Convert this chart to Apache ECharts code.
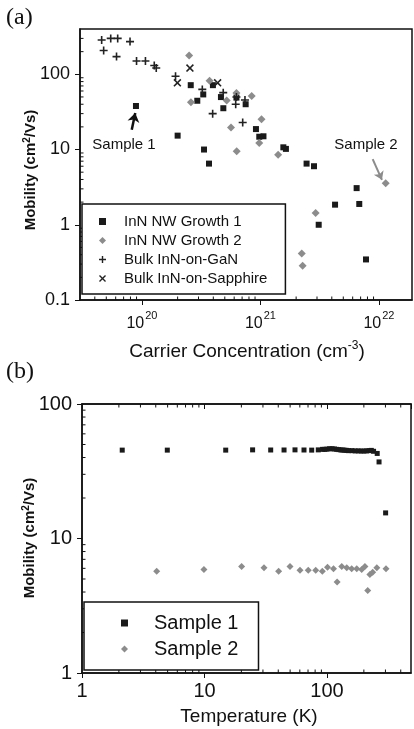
<!DOCTYPE html>
<html>
<head>
<meta charset="utf-8">
<script src="https://cdn.jsdelivr.net/npm/echarts@6/dist/echarts.min.js"></script>
<style>
    html, body { margin: 0; padding: 0; background: #fff; }
    #chart { width: 414px; height: 729px; }
</style>
</head>
<body>
<div id="chart"></div>
<script>
// (a) mobility vs carrier concentration, [N (cm^-3), mobility (cm2/Vs)]
var growth1 = [
    [8.9e19, 37.9], [2.0e20, 15.3], [2.58e20, 71.7], [2.93e20, 44.5], [3.29e20, 54],
    [3.97e20, 71.7], [4.64e20, 49.8], [4.86e20, 35.4], [6.27e20, 49], [7.5e20, 40],
    [9.16e20, 18.7], [9.77e20, 14.8], [1.06e21, 15], [3.34e20, 10], [3.68e20, 6.5],
    [1.56e21, 10.7], [1.64e21, 10.2], [2.45e21, 6.5], [2.83e21, 6.0], [6.48e21, 3.07],
    [4.26e21, 1.85], [6.82e21, 1.89], [3.1e21, 1.0], [7.77e21, 0.346]
];
var growth2 = [
    [2.5e20, 178], [3.72e20, 82], [2.59e20, 42.4], [5.19e20, 44.8], [5.64e20, 19.7],
    [6.3e20, 9.5], [6.27e20, 56.2], [8.43e20, 51.4], [1.02e21, 25.3], [9.77e20, 12.2],
    [1.41e21, 8.5], [2.92e21, 1.43], [2.23e21, 0.415], [2.27e21, 0.286], [1.14e22, 3.57]
];
var bulkGaN = [
    [4.57e19, 286], [5.45e19, 300], [6.24e19, 300], [7.93e19, 272], [4.75e19, 207],
    [6.1e19, 172], [9.0e19, 150], [1.07e20, 150], [1.27e20, 131], [1.32e20, 121],
    [1.92e20, 94], [3.23e20, 63], [4.85e20, 57], [3.95e20, 30], [6.18e20, 40],
    [7.4e20, 45.5], [7.08e20, 22.9], [6.27e20, 49.8]
];
var bulkSapphire = [[2.54e20, 121], [1.99e20, 77], [4.35e20, 77]];

// arrows: [tail, head]
var arrowSample1 = [[8.2e19, 18.3], [8.78e19, 30.7]];
var arrowSample2 = [[8.85e21, 7.46], [1.06e22, 3.96]];

// (b) mobility vs temperature, [T (K), mobility]
var sample1 = [
    [2.13, 45.4], [4.97, 45.4], [14.9, 45.4], [24.7, 45.6], [34.7, 45.5], [44.6, 45.5],
    [54.8, 45.6], [64.9, 45.5], [75, 45.4], [84.9, 45.6], [92, 46], [96, 46],
    [100, 46.2], [105, 46.5], [110, 46.5], [115, 46.3], [120, 46], [125, 45.8],
    [130, 45.5], [135, 45.5], [140, 45.3], [145, 45.2], [150, 45], [160, 45],
    [170, 44.8], [180, 44.8], [190, 44.7], [200, 44.7], [210, 44.8], [220, 45],
    [230, 45.2], [240, 44.5], [257, 42.9], [266, 37.1], [301, 15.5]
];
var sample2 = [
    [4.07, 5.7], [9.9, 5.87], [20.1, 6.2], [30.6, 6.05], [40.3, 5.7], [49.9, 6.2],
    [60.2, 5.8], [70.3, 5.8], [80.9, 5.8], [91.6, 5.7], [101, 6.1], [113, 5.97],
    [121, 4.75], [132, 6.2], [145, 6.05], [159, 5.97], [175, 5.97], [192, 5.87],
    [204, 6.2], [215, 4.11], [224, 5.39], [236, 5.6], [255, 6.05], [303, 5.97]
];

var FONT = 'Liberation Sans, Arial, sans-serif';
var INK = '#111';
var GREY = '#8c8c8c';

var plusPath = 'path://M4,0h2v4h4v2h-4v4h-2v-4h-4v-2h4z';
var crossPath = 'path://M1.4,0L5,3.6L8.6,0L10,1.4L6.4,5L10,8.6L8.6,10L5,6.4L1.4,10L0,8.6L3.6,5L0,1.4z';

// minor log ticks (2..9 x 10^k) inside a range
function minorTicks(lo, hi) {
    var out = [];
    for (var e = Math.floor(Math.log10(lo)); e <= Math.ceil(Math.log10(hi)); e++) {
        for (var k = 2; k <= 9; k++) {
            var v = k * Math.pow(10, e);
            if (v > lo && v < hi) out.push(v);
        }
    }
    return out;
}

function tickSeries(xIdx, yIdx, vals, isX, fixed, sides) {
    return {
        type: 'custom',
        xAxisIndex: xIdx,
        yAxisIndex: yIdx,
        silent: true,
        clip: false,
        data: vals.map(function (v) { return isX ? [v, fixed] : [fixed, v]; }),
        renderItem: function (params, api) {
            var cs = params.coordSys;
            var p = api.coord([api.value(0), api.value(1)]);
            var kids = [];
            sides.forEach(function (s) {
                var shape;
                if (isX) {
                    var y0 = s === 'top' ? cs.y : cs.y + cs.height;
                    var d = s === 'top' ? 3.5 : -3.5;
                    shape = { x1: p[0], y1: y0, x2: p[0], y2: y0 + d };
                } else {
                    var x0 = s === 'right' ? cs.x + cs.width : cs.x;
                    var dx = s === 'right' ? -3.5 : 3.5;
                    shape = { x1: x0, y1: p[1], x2: x0 + dx, y2: p[1] };
                }
                kids.push({ type: 'line', shape: shape, style: { stroke: INK, lineWidth: 1 } });
            });
            return { type: 'group', children: kids };
        }
    };
}

function logAxis(opt) {
    var a = {
        type: 'log',
        logBase: 10,
        min: opt.min,
        max: opt.max,
        gridIndex: opt.grid,
        position: opt.position,
        axisLine: { show: true, onZero: false, lineStyle: { color: INK, width: 1.5 } },
        axisTick: { show: true, inside: !!opt.inside, length: 5, lineStyle: { color: INK, width: 1 } },
        axisLabel: {
            show: opt.labels !== false,
            showMinLabel: false,
            showMaxLabel: false,
            margin: opt.margin || 8,
            color: INK,
            fontFamily: FONT,
            fontSize: opt.fontSize || 18,
            formatter: opt.formatter,
            rich: opt.rich
        },
        splitLine: { show: false },
        minorTick: { show: false },
        minorSplitLine: { show: false }
    };
    if (opt.showMin) a.axisLabel.showMinLabel = true;
    if (opt.showMax) a.axisLabel.showMaxLabel = true;
    return a;
}

var supRich = {
    b: { fontSize: 16, fontFamily: FONT, color: INK, lineHeight: 22, verticalAlign: 'bottom' },
    s: { fontSize: 11, fontFamily: FONT, color: INK, lineHeight: 22, verticalAlign: 'top', padding: [0, 0, 0, 1] }
};

var aX = { min: 3e19, max: 1.9e22 };
var aY = { min: 0.1, max: 400 };
var bX = { min: 1, max: 485 };
var bY = { min: 1, max: 100 };

var option = {
    animation: false,
    backgroundColor: '#fff',
    textStyle: { fontFamily: FONT },
    grid: [
        { left: 80, top: 29, width: 332, height: 271, containLabel: false, outerBoundsMode: 'none',
          show: true, borderColor: INK, borderWidth: 1.5, backgroundColor: 'transparent' },
        { left: 82, top: 404, width: 329, height: 269, containLabel: false, outerBoundsMode: 'none',
          show: true, borderColor: INK, borderWidth: 1.5, backgroundColor: 'transparent' }
    ],
    xAxis: [
        logAxis({ grid: 0, min: aX.min, max: aX.max, position: 'bottom', margin: 10, rich: supRich,
            formatter: function (v) { return '{b|10}{s|' + Math.round(Math.log10(v)) + '}'; } }),
        logAxis({ grid: 1, min: bX.min, max: bX.max, position: 'bottom', margin: 8, fontSize: 20, showMin: true,
            formatter: function (v) { return String(Math.round(v)); } }),
        logAxis({ grid: 1, min: bX.min, max: bX.max, position: 'top', inside: true, labels: false })
    ],
    yAxis: [
        logAxis({ grid: 0, min: aY.min, max: aY.max, position: 'left', margin: 10, fontSize: 18, showMin: true,
            formatter: function (v) { return v < 1 ? v.toFixed(1) : String(Math.round(v)); } }),
        logAxis({ grid: 1, min: bY.min, max: bY.max, position: 'left', margin: 10, fontSize: 20, showMin: true, showMax: true,
            formatter: function (v) { return String(Math.round(v)); } })
    ],
    legend: [
        {
            orient: 'vertical',
            left: 82, top: 204,
            padding: [8, 18, 6, 17],
            itemWidth: 7, itemHeight: 7, itemGap: 0,
            borderColor: INK, borderWidth: 1.5,
            backgroundColor: '#fff',
            textStyle: { fontFamily: FONT, fontSize: 15, color: INK, lineHeight: 19, padding: [0, 0, 0, 13] },
            data: ['InN NW Growth 1', 'InN NW Growth 2', 'Bulk InN-on-GaN', 'Bulk InN-on-Sapphire']
        },
        {
            orient: 'vertical',
            left: 84, top: 602,
            padding: [8, 20, 8, 37],
            itemWidth: 7, itemHeight: 7, itemGap: 0,
            borderColor: INK, borderWidth: 1.5,
            backgroundColor: '#fff',
            textStyle: { fontFamily: FONT, fontSize: 20, color: INK, lineHeight: 26, padding: [0, 0, 0, 21] },
            data: ['Sample 1', 'Sample 2']
        }
    ],
    graphic: [
        { type: 'text', left: 6, top: 6, style: { text: '(a)', font: '24px "Liberation Serif", serif', fill: INK } },
        { type: 'text', left: 6, top: 360, style: { text: '(b)', font: '24px "Liberation Serif", serif', fill: INK } },
        { type: 'text', x: 31, y: 170, rotation: Math.PI / 2,
          style: { text: 'Mobility (cm{s|2}/Vs)', font: 'bold 15px ' + FONT, fill: INK, align: 'center', verticalAlign: 'middle',
                   rich: { s: { font: 'bold 10px ' + FONT, fill: INK, verticalAlign: 'top', lineHeight: 18 } } } },
        { type: 'text', x: 30, y: 538, rotation: Math.PI / 2,
          style: { text: 'Mobility (cm{s|2}/Vs)', font: 'bold 15px ' + FONT, fill: INK, align: 'center', verticalAlign: 'middle',
                   rich: { s: { font: 'bold 10px ' + FONT, fill: INK, verticalAlign: 'top', lineHeight: 18 } } } },
        { type: 'text', x: 247, y: 352,
          style: { text: 'Carrier Concentration (cm{s|-3})', font: '19px ' + FONT, fill: INK, align: 'center', verticalAlign: 'middle',
                   rich: { s: { font: '12px ' + FONT, fill: INK, verticalAlign: 'top', lineHeight: 24 } } } },
        { type: 'text', x: 249, y: 717,
          style: { text: 'Temperature (K)', font: '19px ' + FONT, fill: INK, align: 'center', verticalAlign: 'middle' } },
        { type: 'text', x: 124, y: 145,
          style: { text: 'Sample 1', font: '15px ' + FONT, fill: INK, align: 'center', verticalAlign: 'middle' } },
        { type: 'text', x: 366, y: 145,
          style: { text: 'Sample 2', font: '15px ' + FONT, fill: INK, align: 'center', verticalAlign: 'middle' } }
    ],
    series: [
        {
            name: 'InN NW Growth 1', type: 'scatter', xAxisIndex: 0, yAxisIndex: 0,
            symbol: 'rect', symbolSize: 6, data: growth1,
            itemStyle: { color: '#1a1a1a', opacity: 1 },
            markLine: {
                silent: true, symbol: ['none', 'arrow'], symbolSize: [9, 9],
                label: { show: false },
                lineStyle: { color: INK, width: 2.5, type: 'solid' },
                data: [[{ coord: arrowSample1[0] }, { coord: arrowSample1[1] }]]
            }
        },
        {
            name: 'InN NW Growth 2', type: 'scatter', xAxisIndex: 0, yAxisIndex: 0,
            symbol: 'diamond', symbolSize: 8, data: growth2,
            itemStyle: { color: GREY, opacity: 1 },
            markLine: {
                silent: true, symbol: ['none', 'arrow'], symbolSize: [8, 8],
                label: { show: false },
                lineStyle: { color: GREY, width: 2, type: 'solid' },
                data: [[{ coord: arrowSample2[0] }, { coord: arrowSample2[1] }]]
            }
        },
        {
            name: 'Bulk InN-on-GaN', type: 'scatter', xAxisIndex: 0, yAxisIndex: 0,
            symbol: plusPath, symbolSize: 8, data: bulkGaN,
            itemStyle: { color: '#222', opacity: 1 }
        },
        {
            name: 'Bulk InN-on-Sapphire', type: 'scatter', xAxisIndex: 0, yAxisIndex: 0,
            symbol: crossPath, symbolSize: 8, data: bulkSapphire,
            itemStyle: { color: '#222', opacity: 1 }
        },
        {
            name: 'Sample 1', type: 'scatter', xAxisIndex: 1, yAxisIndex: 1,
            symbol: 'rect', symbolSize: 5, data: sample1,
            itemStyle: { color: '#1a1a1a', opacity: 1 }
        },
        {
            name: 'Sample 2', type: 'scatter', xAxisIndex: 1, yAxisIndex: 1,
            symbol: 'diamond', symbolSize: 7, data: sample2,
            itemStyle: { color: GREY, opacity: 1 }
        },
        tickSeries(0, 0, minorTicks(aX.min, aX.max), true, aY.min, ['bottom']),
        tickSeries(0, 0, minorTicks(aY.min, aY.max), false, aX.min, ['left']),
        tickSeries(1, 1, minorTicks(bX.min, bX.max), true, bY.min, ['bottom', 'top']),
        tickSeries(1, 1, minorTicks(bY.min, bY.max), false, bX.min, ['left'])
    ]
};

var chart = echarts.init(document.getElementById('chart'), null, { renderer: 'canvas' });
chart.setOption(option);
</script>
</body>
</html>
